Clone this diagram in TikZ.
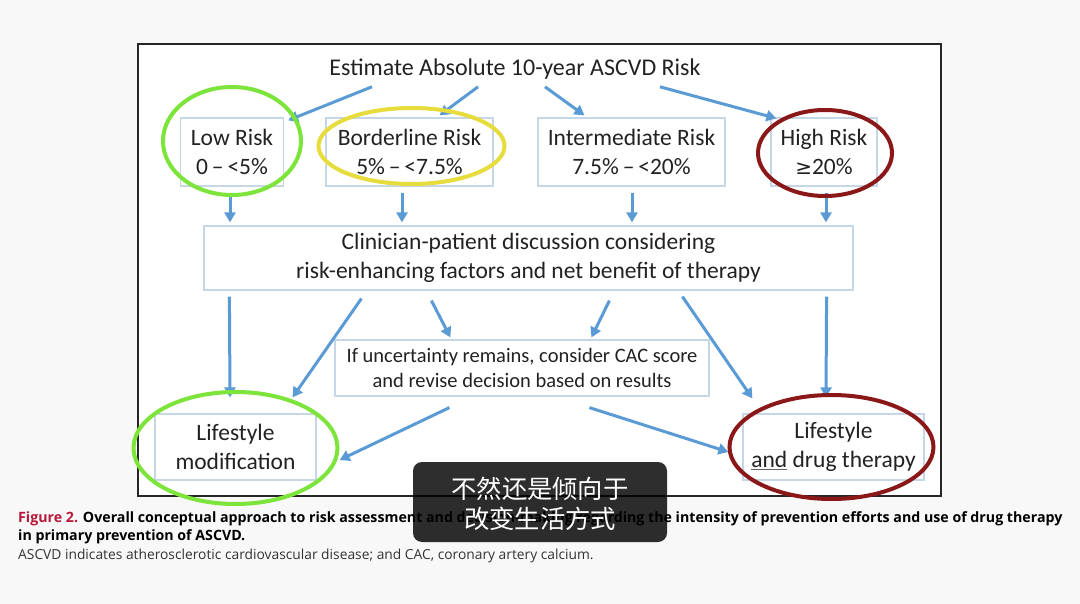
\documentclass[tikz,border=0pt]{standalone}
\usepackage{fontspec}
\setmainfont{Carlito}
\newfontfamily\capfont{Open Sans}
\newfontfamily\cjk{Noto Sans CJK SC}
\usetikzlibrary{arrows.meta,calc}
\definecolor{arrblue}{HTML}{5B9BD5}
\definecolor{boxline}{HTML}{C5D6E6}
\definecolor{bggray}{HTML}{F8F8F8}
\definecolor{lime}{HTML}{7CE43A}
\definecolor{yell}{HTML}{E6DC3C}
\definecolor{darkred}{HTML}{8A1818}
\definecolor{figred}{HTML}{B8173A}
\definecolor{txt}{HTML}{222222}
\tikzset{
  riskbox/.style={draw=boxline, line width=1.2pt, fill=white, minimum height=68pt, align=center, text=txt, font=\fontsize{23.5}{29}\selectfont},
  arr/.style={draw=arrblue, line width=3pt, -{Triangle[length=10pt,width=11pt]}},
  ring/.style={line width=4pt},
  captext/.style={anchor=base west, inner sep=0pt},
}
\begin{document}
\begin{tikzpicture}[x=1pt,y=-1pt]
\useasboundingbox (0,0) rectangle (1080,604);
\fill[bggray] (0,0) rectangle (1080,604);
\draw[black!85, line width=1.5pt, fill=white] (138,44) rectangle (941,496);

\node[text=txt, font=\fontsize{24}{28}\selectfont] (title) at (515,69) {Estimate Absolute 10-year ASCVD Risk};

\node[riskbox, minimum width=103pt] (low) at (232,152) {Low Risk\\0\,--\,<5\%};
\node[riskbox, minimum width=167pt] (border) at (409.5,152) {Borderline Risk\\5\%\,--\,<7.5\%};
\node[riskbox, minimum width=187pt] (inter) at (631.5,152) {Intermediate Risk\\7.5\%\,--\,<20\%};
\node[riskbox, minimum width=106pt] (high) at (824,152) {High Risk\\{\fontspec{DejaVu Sans}\fontsize{20}{24}\selectfont ≥}20\%};

\node[riskbox, minimum width=649pt, minimum height=64pt] (clin) at (528.5,258) {Clinician-patient discussion considering\\risk-enhancing factors and net benefit of therapy};
\node[riskbox, minimum width=374pt, minimum height=56pt, font=\fontsize{20.5}{25}\selectfont] (cac) at (522,368) {If uncertainty remains, consider CAC score\\and revise decision based on results};
\node[riskbox, minimum width=161pt, minimum height=66pt] (lm) at (235.5,447) {Lifestyle\\modification};
\node[riskbox, minimum width=181pt, minimum height=66pt] (ld) at (833.5,447) {Lifestyle\\{\color{txt!70}\underline{\color{txt}and}} drug therapy};

% arrows from title
\draw[arr] ($(title.south)+(-143,4)$) -- ($(low.north east)+(4,3)$);
\draw[arr] ($(title.south)+(-37,4)$) -- ($(border.north)+(30,-2)$);
\draw[arr] ($(title.south)+(30,4)$) -- ($(inter.north)+(-47,-2)$);
\draw[arr] ($(title.south)+(145,4)$) -- ($(high.north west)+(6,1)$);
% arrows to clinician
\draw[arr] ($(low.south)+(-2,6)$) -- ($(low.south |- clin.north)+(-2,-3)$);
\draw[arr] ($(border.south)+(-7.5,6)$) -- ($(border.south |- clin.north)+(-7.5,-3)$);
\draw[arr] ($(inter.south)+(0.5,6)$) -- ($(inter.south |- clin.north)+(0.5,-3)$);
\draw[arr] ($(high.south)+(2,6)$) -- ($(high.south |- clin.north)+(2,-3)$);
% arrows from clinician
\draw[arr] ($(clin.south west)+(26,6)$) -- ($(lm.north)+(-5.5,-16)$);
\draw[arr] ($(clin.south west)+(158,8)$) -- ($(lm.north)+(57,-16)$);
\draw[arr] ($(clin.south west)+(228,10)$) -- ($(cac.north west)+(116,-2)$);
\draw[arr] ($(clin.south west)+(406,10)$) -- ($(cac.north west)+(257,-2)$);
\draw[arr] ($(clin.south west)+(479,6)$) -- ($(ld.north west)+(10,-15)$);
\draw[arr] ($(clin.south east)+(-27,6)$) -- ($(ld.north)+(-7.5,-16)$);
% arrows from CAC
\draw[arr] ($(cac.south west)+(115,11)$) -- ($(lm.east)+(23,13)$);
\draw[arr] ($(cac.south west)+(255,11)$) -- ($(ld.west)+(-14,5)$);

% rings
\draw[ring, lime] (232,141) ellipse [x radius=69, y radius=54];
\draw[ring, yell] (411.5,146) ellipse [x radius=93, y radius=38];
\draw[ring, darkred] (825,153) ellipse [x radius=67, y radius=43];
\draw[ring, lime] (235.5,448) ellipse [x radius=102, y radius=56];
\draw[ring, darkred] (831.5,447) ellipse [x radius=102, y radius=52];

% caption
\node[captext, font=\capfont\bfseries\fontsize{14.2}{17}\selectfont] (cap1) at (18,522) {\textcolor{figred}{Figure 2.} Overall conceptual approach to risk assessment and decision-making regarding the intensity of prevention efforts and use of drug therapy};
\node[captext, font=\capfont\bfseries\fontsize{14.2}{17}\selectfont] (cap2) at (18,540) {in primary prevention of ASCVD.};
\node[captext, text=black!80, font=\capfont\fontsize{13.8}{16}\selectfont] (cap3) at (18,559.5) {ASCVD indicates atherosclerotic cardiovascular disease; and CAC, coronary artery calcium.};

% subtitle overlay
\fill[black, opacity=0.82, rounded corners=9pt] (413,462) rectangle (667,542);
\node[text=white, font=\cjk\fontsize{25.3}{30}\selectfont, align=center] (sub) at (540,504) {不然还是倾向于\\改变生活方式};
\end{tikzpicture}
\end{document}
